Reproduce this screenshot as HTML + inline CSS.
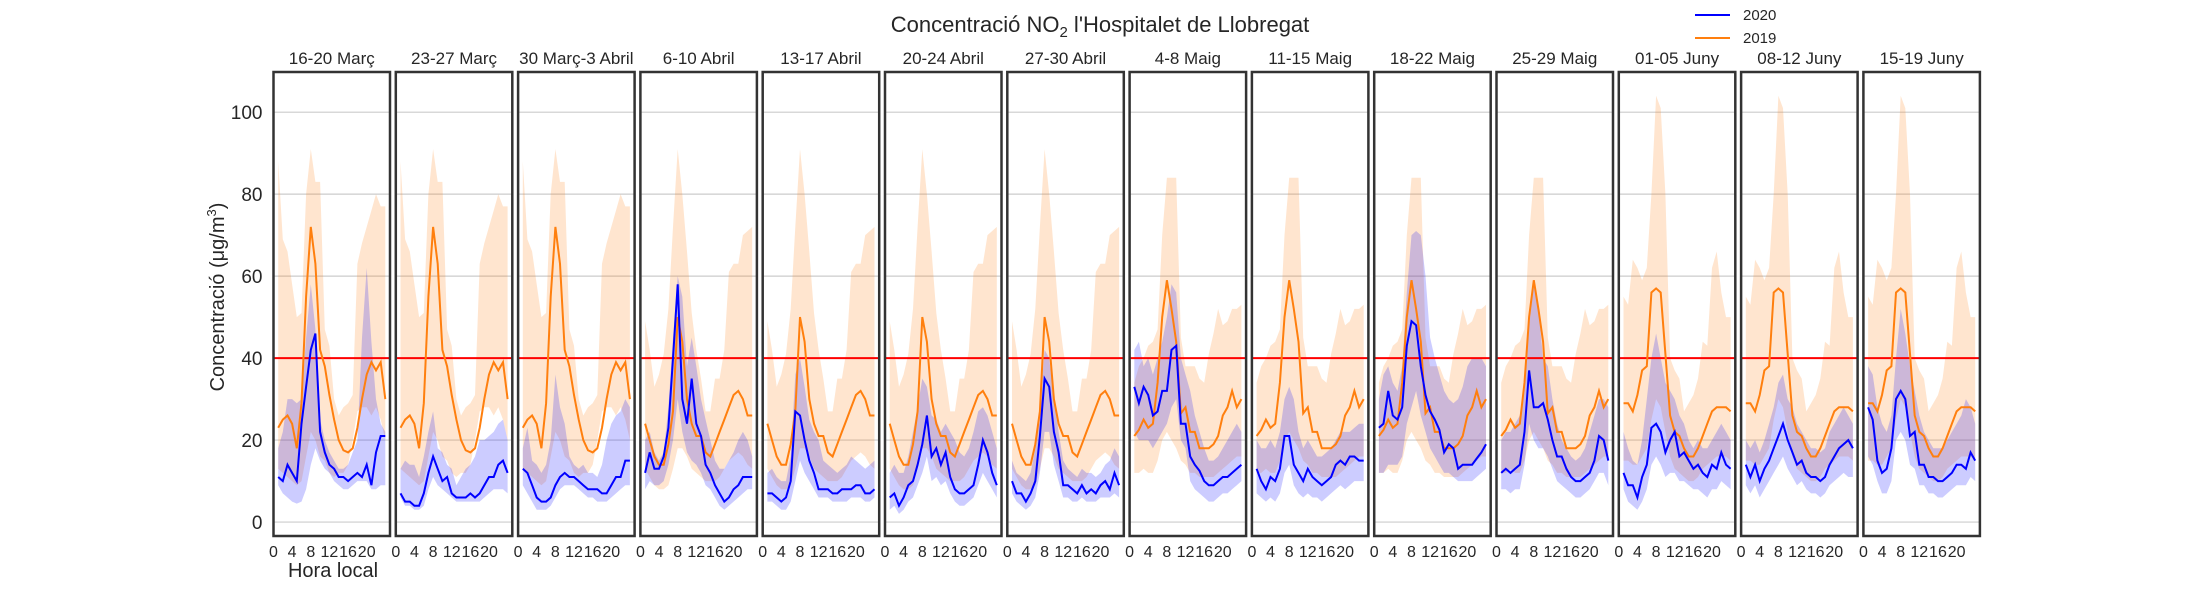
<!DOCTYPE html>
<html><head><meta charset="utf-8">
<style>
html,body{margin:0;padding:0;background:#fff;}
svg text{font-family:"Liberation Sans",Arial,sans-serif;fill:#262626;}
</style></head>
<body>
<svg id="chart" width="2200" height="600" viewBox="0 0 2200 600" xmlns="http://www.w3.org/2000/svg">
<text x="1100" y="32" font-size="22" text-anchor="middle">Concentració NO<tspan font-size="15" dy="5">2</tspan><tspan dy="-5"> l'Hospitalet de Llobregat</tspan></text>
<g>
<line x1="1695" y1="15" x2="1730" y2="15" stroke="#0000ff" stroke-width="2"/>
<text x="1743" y="20" font-size="15">2020</text>
<line x1="1695" y1="38" x2="1730" y2="38" stroke="#ff7f0e" stroke-width="2"/>
<text x="1743" y="43" font-size="15">2019</text>
</g>
<text transform="translate(224,297) rotate(-90)" font-size="20" text-anchor="middle">Concentració (μg/m<tspan font-size="13" dy="-8">3</tspan><tspan dy="8">)</tspan></text>
<text x="333" y="577" font-size="20" text-anchor="middle">Hora local</text>
<g id="panels"></g>
</svg>
<script>
const panelTitles = ["16-20 Març","23-27 Març","30 Març-3 Abril","6-10 Abril","13-17 Abril","20-24 Abril","27-30 Abril","4-8 Maig","11-15 Maig","18-22 Maig","25-29 Maig","01-05 Juny","08-12 Juny","15-19 Juny"];
const hours = [1,2,3,4,5,6,7,8,9,10,11,12,13,14,15,16,17,18,19,20,21,22,23,24];
const yTicks = [0,20,40,60,80,100];
const xTicks = [0,4,8,12,16,20];
const limitValue = 40;
const orangeGroupOfPanel = [0,0,0,1,1,1,1,2,2,2,2,3,3,3];

const orange2019 = [
 [23,25,26,24,18,29,55,72,63,42,38,31,25,20,17.5,17,18,23,30,36,39,37,39,30],
 [24,20,16,14,14,19,27,50,44,30,24,21,21,17,16,19,22,25,28,31,32,30,26,26],
 [21,22.5,25,23,24,34,50,59,52,44,26.5,28,22,22,18,18,18,19,21,26,28,32,28,30],
 [29,29,27,31,37,38,56,57,56,41,26,22,21,18,16,16,18,21,24,27,28,28,28,27]
];
const orange2019Hi = [
 [88,69,66,58,50,51,80,91,83,83,47,43,30,26,28,29,31,63,68,72,76,80,77,77],
 [49,42,33,36,41,52,72,91,80,66,51,42,35,27,27,35,35,42,61,63,63,70,71,72],
 [34,38,40,43,44,47,70,84,84,84,45,38,38,38,35,34,41,46,52,48,49,52,52,53],
 [55,53,64,62,59,62,80,104,101,80,40,37,35,27,29,31,35,44,43,62,66,56,50,50]
];
const orange2019Lo = [
 [13,12,11,10,9,10,16,22,20,16,15,12,11,12,12,14,20,27,28,28,26,28,25,20],
 [13,11,9,8,8,9,13,18,18,16,13,12,11,10,10,10,11,13,15,16,17,16,14,13],
 [12,12,13,12,12,15,20,22,20,18,15,14,12,12,11,11,11,11,12,13,14,15,16,16],
 [15,15,14,14,16,18,25,30,28,22,16,13,12,11,10,10,11,13,14,15,16,16,16,15]
];
const blue2020 = [
 [11,10,14,12,10,24,33,42,46,22,17,14,13,11,11,10,11,12,11,14,9,17,21,21],
 [7,5,5,4,4,7,12,16,13,10,11,7,6,6,6,7,6,7,9,11,11,14,15,12],
 [13,12,9,6,5,5,6,9,11,12,11,11,10,9,8,8,8,7,7,9,11,11,15,15],
 [12,17,13,13,16,23,40,58,30,24,35,24,21,14,12,9,7,5,6,8,9,11,11,11],
 [7,7,6,5,6,10,27,26,20,15,12,8,8,8,7,7,8,8,8,9,9,7,7,8],
 [6,7,4,6,9,10,14,19,26,16,18,14,17,11,8,7,7,8,9,14,20,17,12,9],
 [10,7,7,5,7,10,21,35,33,22,17,9,9,8,7,9,7,8,7,9,10,8,12,9],
 [33,29,33,31,26,27,32,32,42,43,24,24,16,14,12.5,10,9,9,10,11,11,12,13,14],
 [13,10,8,11,10,13,21,21,14,12,10,13,11,10,9,10,11,14,15,14,16,16,15,15],
 [23,24,32,26,25,28,43,49,48,38,31,27,25,22.5,17,19,18,13,14,14,14,15.5,17,19],
 [12,13,12,13,14,22,37,28,28,29,25,20,16,16,13,11,10,10,11,12,15,21,20,15],
 [12,9,9,6,11,14,23,24,22,17,20,22,16,17,15,13,14,12,11,14,13,17,14,13],
 [14,11,14,10,13,15,18,21,24,20,17,14,15,12,11,11,10,11,14,16,18,19,20,18],
 [28,25,15,12,13,18,30,32,30,21,22,14,14,11,11,10,10,11,12,14,14,13,17,15]
];
const blue2020Hi = [
 [18,22,30,30,29,30,45,58,47,25,20,17,15,13,13,14,17,20,45,62,44,30,24,22],
 [13,15,14,14,11,16,22,27,18,17,14,13,9,11,13,14,16,20,20,21,22,24,25,20],
 [18,23,15,14,12,14,20,36,28,24,16,14,13,14,12,12,11,14,20,24,26,27,30,28],
 [20,22,17,15,17,28,45,60,55,38,45,38,30,25,20,15,13,13,15,17,20,22,20,16],
 [12,13,11,10,10,16,36,40,33,25,22,20,15,14,13,12,13,14,16,15,14,13,14,15],
 [12,14,12,12,16,22,28,35,33,26,25,22,24,22,20,17,16,18,22,27,28,26,22,18],
 [15,12,11,10,12,18,28,42,40,30,22,15,13,12,11,13,12,12,11,12,14,15,18,16],
 [42,44,38,40,36,40,44,50,58,56,40,36,32,26,22,18,15,15,16,18,20,22,24,22],
 [20,18,18,20,18,22,30,33,30,22,18,20,18,16,16,17,18,20,22,22,22,23,24,24],
 [30,36,38,34,32,38,56,70,71,70,60,45,40,36,32,30,29,30,33,38,40,40,40,38],
 [20,22,22,24,26,32,48,58,52,40,38,30,24,20,18,16,15,16,18,22,26,30,30,28],
 [22,18,15,14,20,30,40,46,40,34,32,30,26,24,20,18,20,18,18,20,22,24,22,20],
 [20,18,20,17,20,24,28,34,36,30,28,24,22,20,18,18,17,18,22,24,26,28,26,24],
 [38,36,28,24,22,26,40,52,46,38,32,26,22,20,18,18,18,20,22,24,26,30,28,24]
];
const blue2020Lo = [
 [9,7,6,5,4.5,5,8,14,18,15,13,12,10,9,8,8,9,10,10,10,8,8,9,9],
 [6,4,4,3,3,4,8,11,9,8,7,6,5,5,5,5,5,5,6,7,8,8,8,7],
 [9,7,5,3,3,3,4,6,8,9,9,9,8,7,6,6,5,5,5,6,7,8,9,9],
 [8,10,9,9,10,14,20,30,22,17,15,14,12,9,8,6,4,3,4,5,6,7,8,8],
 [5,5,4,3,3,5,10,15,12,10,8,6,6,6,5,5,5,5,6,6,6,5,5,6],
 [3,4,2,3,5,6,9,12,16,10,11,9,10,7,5,4,4,5,6,9,12,10,8,6],
 [7,5,4,3,4,6,12,22,22,14,10,6,6,5,5,6,5,5,5,6,6,6,7,6],
 [22,20,20,20,18,20,22,24,28,30,20,18,10,8,7,6,5,5,6,7,7,8,9,10],
 [7,6,5,6,5,7,12,14,9,7,6,7,6,6,5,6,7,8,9,8,9,10,10,10],
 [12,12,14,14,14,16,24,28,32,26,22,18,16,14,12,12,11,10,10,10,10,11,12,13],
 [8,8,7,8,8,14,24,20,18,18,16,13,10,9,8,7,6,6,7,8,10,12,12,9],
 [8,5,4,3,5,8,14,16,14,11,12,12,10,10,9,8,8,7,6,8,8,10,9,8],
 [9,7,9,6,8,10,12,14,16,13,11,9,10,8,7,7,6,7,9,10,11,12,11,11],
 [16,14,10,7,7,10,20,22,20,14,13,9,9,7,7,6,6,7,8,9,9,9,11,10]
];

const NS = "http://www.w3.org/2000/svg";
const P0 = 273.5, PSTEP = 122.3, PW = 116.5, PT = 72, PB = 536;
const XMIN = 0, XMAX = 25, YMIN = -3.4, YMAX = 109.8;
function xScale(i, h){ return P0 + i*PSTEP + (h - XMIN)/(XMAX - XMIN)*PW; }
function yScale(v){ return PB - (v - YMIN)/(YMAX - YMIN)*(PB - PT); }
function mk(tag, attrs, parent){ const e=document.createElementNS(NS,tag); for(const k in attrs) e.setAttribute(k,attrs[k]); parent.appendChild(e); return e; }
function linePts(i, arr){ return arr.map((v,k)=>xScale(i,hours[k]).toFixed(1)+","+yScale(v).toFixed(1)).join(" "); }
function bandPts(i, hi, lo){
  const top = hi.map((v,k)=>xScale(i,hours[k]).toFixed(1)+","+yScale(v).toFixed(1));
  const bot = lo.map((v,k)=>xScale(i,hours[k]).toFixed(1)+","+yScale(v).toFixed(1)).reverse();
  return top.concat(bot).join(" ");
}
const root = document.getElementById("panels");
panelTitles.forEach((title, i) => {
  const g = mk("g", {}, root);
  
  
  const left = xScale(i, XMIN);
  yTicks.forEach(t => {
    const gl = mk("line", {x1:left, x2:left+PW, y1:yScale(t), y2:yScale(t), stroke:"#cccccc", "stroke-width":1.2}, g);
    
    
  });
  const og = orangeGroupOfPanel[i];
  const ob = mk("polygon", {points:bandPts(i, orange2019Hi[og], orange2019Lo[og]), fill:"#ff7f0e", "fill-opacity":0.2}, g);
  
  
  const bb = mk("polygon", {points:bandPts(i, blue2020Hi[i], blue2020Lo[i]), fill:"#0000ff", "fill-opacity":0.2}, g);
  
  
  const rl = mk("line", {x1:left, x2:left+PW, y1:yScale(limitValue), y2:yScale(limitValue), stroke:"#ff0000", "stroke-width":2}, g);
  
  
  const ol = mk("polyline", {points:linePts(i, orange2019[og]), fill:"none", stroke:"#ff7f0e", "stroke-width":2}, g);
  
  
  const bl = mk("polyline", {points:linePts(i, blue2020[i]), fill:"none", stroke:"#0000ff", "stroke-width":2}, g);
  
  
  const fr = mk("rect", {x:left, y:PT, width:PW, height:PB-PT, fill:"none", stroke:"#333333", "stroke-width":2.5}, g);
  
  
  const tt = mk("text", {x:left+PW/2, y:64, "font-size":17, "text-anchor":"middle"}, g);
  tt.textContent = title;
  
  
  xTicks.forEach(t => {
    const xl = mk("text", {x:xScale(i,t), y:557, "font-size":16, "text-anchor":"middle"}, g);
    xl.textContent = t;
    
    
  });
  if (i === 0) {
    yTicks.forEach(t => {
      const yl = mk("text", {x:left-11, y:yScale(t)+7, "font-size":19, "text-anchor":"end"}, g);
      yl.textContent = t;
      
      
    });
  }
});
</script>
</body></html>
